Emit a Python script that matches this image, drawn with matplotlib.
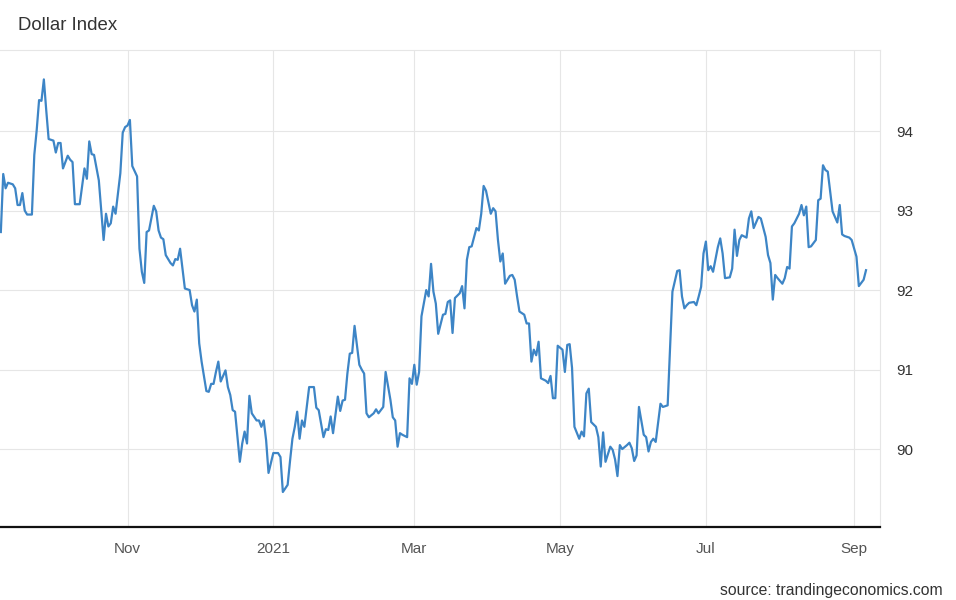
import pandas as pd
import matplotlib
matplotlib.use('Agg')
import matplotlib.pyplot as plt

plt.rcParams['font.family'] = ['Liberation Sans', 'DejaVu Sans']

# Dollar Index
dates = [
    '2020-09-09', '2020-09-10', '2020-09-11', '2020-09-12', '2020-09-14', '2020-09-15',
    '2020-09-16', '2020-09-17', '2020-09-18', '2020-09-19', '2020-09-20', '2020-09-22',
    '2020-09-23', '2020-09-24', '2020-09-25', '2020-09-26', '2020-09-27', '2020-09-28',
    '2020-09-29', '2020-10-01', '2020-10-02', '2020-10-03', '2020-10-04', '2020-10-05',
    '2020-10-07', '2020-10-08', '2020-10-09', '2020-10-10', '2020-10-12', '2020-10-14',
    '2020-10-15', '2020-10-16', '2020-10-17', '2020-10-18', '2020-10-20', '2020-10-22',
    '2020-10-23', '2020-10-24', '2020-10-25', '2020-10-26', '2020-10-27', '2020-10-29',
    '2020-10-30', '2020-10-31', '2020-11-01', '2020-11-02', '2020-11-03', '2020-11-05',
    '2020-11-06', '2020-11-07', '2020-11-08', '2020-11-09', '2020-11-10', '2020-11-12',
    '2020-11-13', '2020-11-14', '2020-11-15', '2020-11-16', '2020-11-17', '2020-11-19',
    '2020-11-20', '2020-11-21', '2020-11-22', '2020-11-23', '2020-11-24', '2020-11-25',
    '2020-11-27', '2020-11-28', '2020-11-29', '2020-11-30', '2020-12-01', '2020-12-02',
    '2020-12-04', '2020-12-05', '2020-12-06', '2020-12-07', '2020-12-08', '2020-12-09',
    '2020-12-10', '2020-12-12', '2020-12-13', '2020-12-14', '2020-12-15', '2020-12-16',
    '2020-12-18', '2020-12-19', '2020-12-20', '2020-12-21', '2020-12-22', '2020-12-23',
    '2020-12-25', '2020-12-26', '2020-12-27', '2020-12-28', '2020-12-29', '2020-12-30',
    '2021-01-01', '2021-01-03', '2021-01-04', '2021-01-05', '2021-01-07', '2021-01-08',
    '2021-01-09', '2021-01-10', '2021-01-11', '2021-01-12', '2021-01-13', '2021-01-14',
    '2021-01-16', '2021-01-18', '2021-01-19', '2021-01-20', '2021-01-22', '2021-01-23',
    '2021-01-24', '2021-01-25', '2021-01-26', '2021-01-28', '2021-01-29', '2021-01-30',
    '2021-01-31', '2021-02-01', '2021-02-02', '2021-02-03', '2021-02-04', '2021-02-06',
    '2021-02-07', '2021-02-08', '2021-02-09', '2021-02-10', '2021-02-12', '2021-02-13',
    '2021-02-14', '2021-02-15', '2021-02-16', '2021-02-17', '2021-02-19', '2021-02-20',
    '2021-02-21', '2021-02-22', '2021-02-23', '2021-02-24', '2021-02-26', '2021-02-27',
    '2021-02-28', '2021-03-01', '2021-03-02', '2021-03-03', '2021-03-04', '2021-03-06',
    '2021-03-07', '2021-03-08', '2021-03-09', '2021-03-10', '2021-03-11', '2021-03-13',
    '2021-03-14', '2021-03-15', '2021-03-16', '2021-03-17', '2021-03-18', '2021-03-20',
    '2021-03-21', '2021-03-22', '2021-03-23', '2021-03-24', '2021-03-25', '2021-03-27',
    '2021-03-28', '2021-03-29', '2021-03-30', '2021-03-31', '2021-04-02', '2021-04-03',
    '2021-04-04', '2021-04-05', '2021-04-06', '2021-04-07', '2021-04-08', '2021-04-10',
    '2021-04-11', '2021-04-12', '2021-04-13', '2021-04-14', '2021-04-16', '2021-04-17',
    '2021-04-18', '2021-04-19', '2021-04-20', '2021-04-21', '2021-04-22', '2021-04-23',
    '2021-04-25', '2021-04-26', '2021-04-27', '2021-04-28', '2021-04-29', '2021-04-30',
    '2021-05-02', '2021-05-03', '2021-05-04', '2021-05-05', '2021-05-06', '2021-05-07',
    '2021-05-09', '2021-05-10', '2021-05-11', '2021-05-12', '2021-05-13', '2021-05-14',
    '2021-05-16', '2021-05-17', '2021-05-18', '2021-05-19', '2021-05-20', '2021-05-22',
    '2021-05-23', '2021-05-24', '2021-05-25', '2021-05-26', '2021-05-27', '2021-05-29',
    '2021-05-30', '2021-05-31', '2021-06-01', '2021-06-02', '2021-06-03', '2021-06-05',
    '2021-06-06', '2021-06-07', '2021-06-08', '2021-06-09', '2021-06-10', '2021-06-12',
    '2021-06-13', '2021-06-15', '2021-06-16', '2021-06-17', '2021-06-19', '2021-06-20',
    '2021-06-21', '2021-06-22', '2021-06-23', '2021-06-24', '2021-06-26', '2021-06-27',
    '2021-06-28', '2021-06-29', '2021-06-30', '2021-07-01', '2021-07-02', '2021-07-03',
    '2021-07-04', '2021-07-06', '2021-07-07', '2021-07-08', '2021-07-09', '2021-07-11',
    '2021-07-12', '2021-07-13', '2021-07-14', '2021-07-15', '2021-07-16', '2021-07-18',
    '2021-07-19', '2021-07-20', '2021-07-21', '2021-07-22', '2021-07-23', '2021-07-24',
    '2021-07-26', '2021-07-27', '2021-07-28', '2021-07-29', '2021-07-30', '2021-07-31',
    '2021-08-02', '2021-08-03', '2021-08-04', '2021-08-05', '2021-08-06', '2021-08-07',
    '2021-08-09', '2021-08-10', '2021-08-11', '2021-08-12', '2021-08-13', '2021-08-14',
    '2021-08-16', '2021-08-17', '2021-08-18', '2021-08-19', '2021-08-20', '2021-08-21',
    '2021-08-23', '2021-08-24', '2021-08-25', '2021-08-26', '2021-08-27', '2021-08-28',
    '2021-08-30', '2021-08-31', '2021-09-02', '2021-09-03', '2021-09-05', '2021-09-06',
]

values = [
    92.73, 93.46, 93.28, 93.35, 93.33, 93.28,
    93.07, 93.07, 93.22, 93.00, 92.95, 92.95,
    93.70, 94.01, 94.39, 94.38, 94.65, 94.26,
    93.90, 93.88, 93.73, 93.85, 93.85, 93.53,
    93.69, 93.64, 93.61, 93.08, 93.08, 93.53,
    93.40, 93.87, 93.71, 93.70, 93.38, 92.63,
    92.96, 92.80, 92.84, 93.05, 92.96, 93.47,
    93.98, 94.05, 94.07, 94.14, 93.56, 93.43,
    92.52, 92.23, 92.09, 92.73, 92.75, 93.06,
    92.99, 92.75, 92.66, 92.64, 92.44, 92.34,
    92.31, 92.39, 92.38, 92.52, 92.27, 92.02,
    92.00, 91.81, 91.73, 91.88, 91.33, 91.10,
    90.73, 90.72, 90.82, 90.82, 90.97, 91.10,
    90.85, 90.99, 90.78, 90.68, 90.49, 90.47,
    89.84, 90.07, 90.22, 90.07, 90.67, 90.45,
    90.36, 90.36, 90.28, 90.36, 90.11, 89.70,
    89.95, 89.95, 89.90, 89.46, 89.55, 89.85,
    90.13, 90.28, 90.47, 90.13, 90.36, 90.28,
    90.78, 90.78, 90.52, 90.49, 90.15, 90.25,
    90.24, 90.41, 90.20, 90.66, 90.48, 90.61,
    90.62, 90.95, 91.20, 91.21, 91.55, 91.06,
    91.00, 90.95, 90.45, 90.40, 90.45, 90.50,
    90.45, 90.49, 90.53, 90.97, 90.62, 90.40,
    90.36, 90.03, 90.20, 90.18, 90.15, 90.89,
    90.82, 91.06, 90.81, 90.97, 91.67, 92.00,
    91.92, 92.33, 91.98, 91.83, 91.45, 91.69,
    91.70, 91.85, 91.87, 91.46, 91.90, 91.96,
    92.05, 91.77, 92.38, 92.54, 92.55, 92.78,
    92.75, 92.96, 93.31, 93.25, 92.96, 93.03,
    92.99, 92.63, 92.36, 92.46, 92.08, 92.18,
    92.19, 92.13, 91.92, 91.73, 91.69, 91.58,
    91.58, 91.10, 91.25, 91.18, 91.35, 90.89,
    90.86, 90.83, 90.92, 90.64, 90.64, 91.30,
    91.25, 90.97, 91.31, 91.32, 91.02, 90.28,
    90.13, 90.22, 90.16, 90.70, 90.76, 90.34,
    90.28, 90.15, 89.78, 90.21, 89.84, 90.03,
    89.99, 89.87, 89.66, 90.05, 90.00, 90.05,
    90.08, 90.01, 89.85, 89.92, 90.53, 90.18,
    90.15, 89.97, 90.09, 90.13, 90.09, 90.57,
    90.53, 90.55, 91.25, 91.98, 92.24, 92.25,
    91.92, 91.77, 91.81, 91.84, 91.85, 91.81,
    91.92, 92.04, 92.46, 92.61, 92.25, 92.30,
    92.23, 92.54, 92.65, 92.46, 92.15, 92.16,
    92.27, 92.76, 92.43, 92.63, 92.69, 92.66,
    92.90, 92.99, 92.78, 92.85, 92.92, 92.90,
    92.67, 92.44, 92.34, 91.88, 92.19, 92.15,
    92.08, 92.15, 92.29, 92.27, 92.80, 92.84,
    92.96, 93.07, 92.94, 93.05, 92.54, 92.55,
    92.63, 93.13, 93.15, 93.57, 93.51, 93.49,
    92.99, 92.92, 92.85, 93.07, 92.70, 92.68,
    92.66, 92.63, 92.42, 92.05, 92.13, 92.25,
]

tick_dates = ['2020-11-01', '2021-01-01', '2021-03-01', '2021-05-01', '2021-07-01', '2021-09-01']
tick_labels = ['Nov', '2021', 'Mar', 'May', 'Jul', 'Sep']
y_ticks = [90, 91, 92, 93, 94]

fig = plt.figure(figsize=(9.56, 6), dpi=100)
ax = fig.add_axes([0, 0.1217, 0.9205, 0.795])

ax.plot(pd.to_datetime(dates), values, color='#3d85c6', lw=1.6, zorder=3)

ax.set_xlim(pd.Timestamp('2020-09-08 15:36'), pd.Timestamp('2021-09-11 20:24'))
ax.set_ylim(89.02, 95.02)

ax.set_xticks(pd.to_datetime(tick_dates))
ax.set_xticklabels(tick_labels)
ax.set_yticks(y_ticks)
ax.yaxis.tick_right()

ax.grid(True, color='#e6e6e6', lw=0.8)
ax.tick_params(axis='both', length=0, labelsize=11, labelcolor='#555555')
ax.tick_params(axis='x', pad=11)
ax.tick_params(axis='y', pad=12, labelcolor='#333333')

ax.spines['left'].set_visible(False)
ax.spines['top'].set_color('#e6e6e6')
ax.spines['right'].set_color('#e6e6e6')
ax.spines['bottom'].set_color('#111111')
ax.spines['bottom'].set_linewidth(1.6)

fig.text(18 / 956, 1 - 25 / 600, 'Dollar Index', fontsize=13.4, color='#333333',
         ha='left', va='center')
fig.text(943 / 956, 1 - 590 / 600, 'source: trandingeconomics.com', fontsize=11.3,
         color='#333333', ha='right', va='center')

fig.savefig('out.png', dpi=100)
